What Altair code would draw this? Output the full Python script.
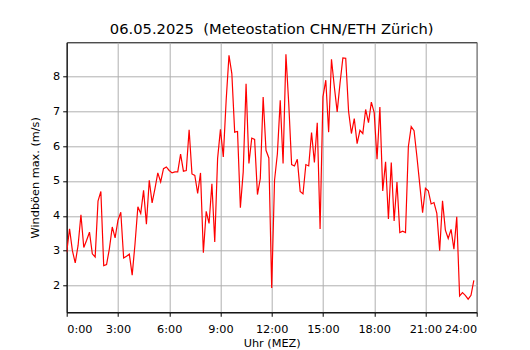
import altair as alt
import pandas as pd

title_text = "06.05.2025 \u00a0(Meteostation CHN/ETH Zürich)"
x_label = "Uhr (MEZ)"
y_label = "Windböen max. (m/s)"

# 10-minute values from 0:00 to 23:50
gusts = [
    2.95, 3.63, 3.00, 2.65, 3.15, 4.03, 3.09, 3.30, 3.53, 2.91, 2.82, 4.42,
    4.70, 2.57, 2.60, 3.06, 3.68, 3.37, 3.87, 4.10, 2.79, 2.84, 2.90, 2.30,
    3.20, 4.26, 4.07, 4.73, 3.76, 5.02, 4.37, 4.78, 5.23, 4.97, 5.35, 5.40,
    5.30, 5.23, 5.26, 5.26, 5.77, 5.28, 5.30, 6.47, 5.20, 5.16, 4.64, 5.23,
    2.94, 4.13, 3.78, 4.92, 3.25, 5.64, 6.48, 5.69, 7.30, 8.60, 8.08, 6.40,
    6.42, 4.23, 5.26, 7.79, 5.50, 6.23, 6.19, 4.61, 5.07, 7.41, 5.88, 5.66,
    1.93, 5.02, 5.78, 7.31, 5.50, 8.63, 7.20, 5.47, 5.43, 5.62, 4.70, 4.63,
    5.47, 5.43, 6.39, 5.53, 6.67, 3.62, 7.41, 7.89, 6.40, 8.49, 7.70, 6.98,
    7.80, 8.53, 8.52, 7.00, 6.36, 6.79, 6.07, 6.45, 6.36, 7.05, 6.67, 7.26,
    6.96, 5.62, 7.12, 4.71, 5.55, 3.91, 5.53, 3.85, 4.97, 3.52, 3.56, 3.52,
    5.98, 6.56, 6.44, 5.70, 4.90, 4.09, 4.79, 4.72, 4.34, 4.38, 4.07, 3.00,
    4.43, 3.59, 3.35, 3.61, 3.04, 3.97, 1.70, 1.80, 1.72, 1.61, 1.72, 2.15,
]
x_ticks = [0, 3, 6, 9, 12, 15, 18, 21, 24]
y_ticks = [2, 3, 4, 5, 6, 7, 8]

hours = [i * 10 / 60 for i in range(len(gusts))]
df = pd.DataFrame({"h": hours, "v": gusts})

FONT = "DejaVu Sans"

chart = (
    alt.Chart(df)
    .mark_line(color="#ff0000", strokeWidth=1.2, clip=True)
    .encode(
        x=alt.X(
            "h:Q",
            scale=alt.Scale(domain=[0, 24], nice=False, zero=False),
            axis=alt.Axis(
                values=x_ticks,
                labelExpr="datum.value + ':00'",
                title=x_label,
                grid=True,
                labelPadding=7,
                titlePadding=3,
            ),
        ),
        y=alt.Y(
            "v:Q",
            scale=alt.Scale(domain=[1.233, 8.976], nice=False, zero=False),
            axis=alt.Axis(values=y_ticks, format="d", title=y_label, grid=True,
                          labelPadding=3, titlePadding=12),
        ),
    )
    .properties(
        width=410,
        height=270,
        title=alt.TitleParams(
            title_text, font=FONT, fontSize=14.7, fontWeight="normal",
            color="black", offset=6, anchor="middle",
        ),
        autosize=alt.AutoSizeParams(type="none"),
        padding={"left": 58.7, "top": 34.3, "right": 30, "bottom": 40},
    )
    .configure_view(stroke="black", strokeWidth=1)
    .configure_axis(
        labelFont=FONT, labelFontSize=11.3, labelColor="black",
        titleFont=FONT, titleFontSize=11.3, titleColor="black", titleFontWeight="normal",
        domainColor="black", domainWidth=1,
        tickColor="black", tickSize=4, tickWidth=1,
        gridColor="#b0b0b0", gridWidth=1,
    )
)

chart.save("out.html", embed_options={"renderer": "svg", "actions": False})
